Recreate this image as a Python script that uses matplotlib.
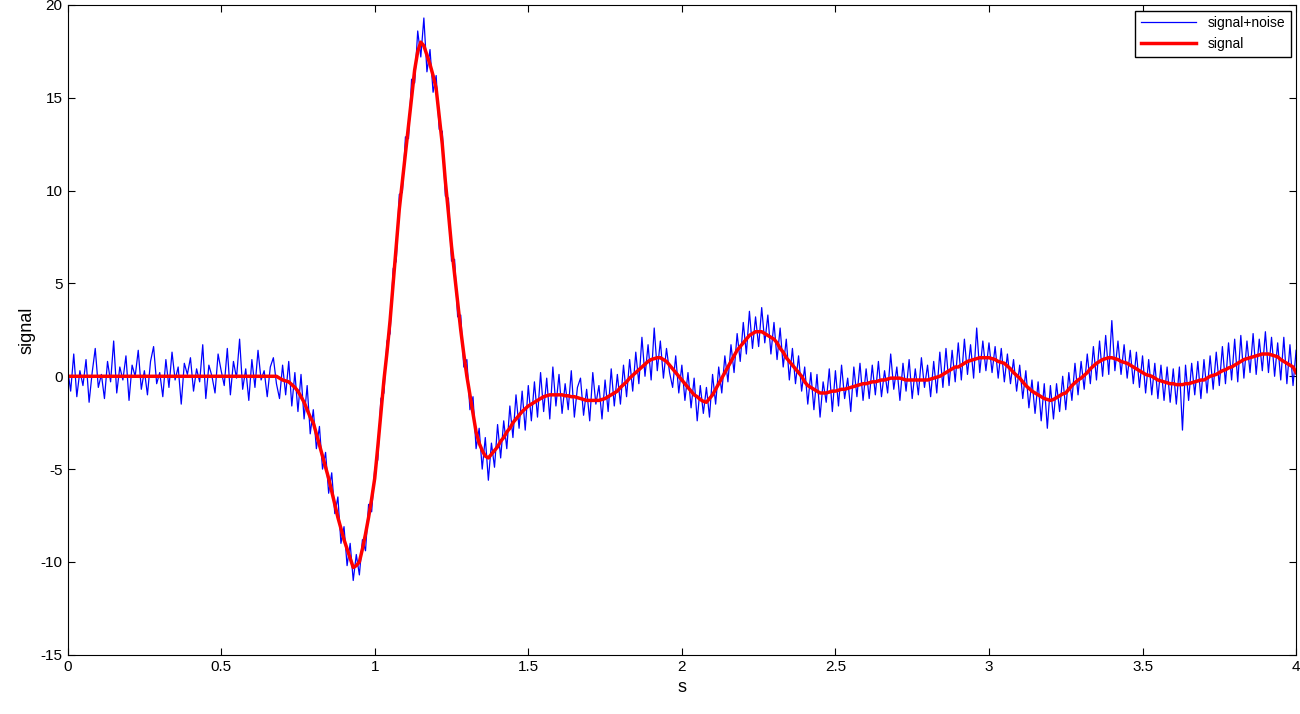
import numpy as np
import matplotlib.pyplot as plt

plt.rcParams["font.family"] = ["Liberation Sans", "DejaVu Sans"]
plt.rcParams["axes.unicode_minus"] = False

# noisy samples, every 0.01 s from 0 to 4 s
noisy = [
    0.4, -0.8, 1.2, -1.1, 0.3, -0.5, 0.9, -1.4, 0.2, 1.5, -0.6, 0.1, -1.2, 0.8, -0.3, 1.9, -0.9, 0.5, -0.2, 1.1,
    -1.3, 0.6, 0.0, 1.4, -0.7, 0.3, -1.0, 0.8, 1.6, -0.4, 0.2, -1.1, 0.9, -0.6, 1.3, -0.2, 0.5, -1.5, 0.7, 0.1,
    1.0, -0.8, 0.4, -0.3, 1.7, -1.2, 0.6, 0.0, -0.9, 1.2, 0.3, -0.5, 1.5, -1.0, 0.8, -0.1, 2.0, -0.7, 0.4, -1.3,
    0.9, -0.6, 1.4, -0.2, 0.3, -1.1, 0.5, 1.0, -0.4, -1.2, 0.6, -1.0, 0.8, -1.6, 0.2, -1.9, 0.1, -2.3, -0.5, -3.1,
    -1.8, -3.9, -2.7, -5.0, -4.1, -6.3, -5.2, -7.4, -6.5, -9.0, -8.1, -10.2, -9.0, -11.0, -9.6, -10.7, -8.8, -9.4, -6.9, -7.3,
    -5.0, -4.5, -1.2, -0.9, 1.9, 2.3, 5.8, 6.2, 9.8, 9.9, 12.9, 12.8, 16.0, 15.8, 18.6, 17.2, 19.3, 16.4, 17.6, 15.3,
    16.2, 13.3, 13.2, 9.7, 9.6, 6.2, 6.3, 3.2, 3.3, 0.5, 0.9, -1.8, -1.1, -3.9, -2.8, -5.0, -3.3, -5.6, -3.6, -4.9,
    -2.6, -4.4, -2.4, -3.9, -1.6, -3.3, -1.0, -2.8, -0.8, -2.9, -0.5, -2.4, -0.3, -2.2, 0.2, -1.9, -0.1, -2.3, 0.5, -1.6,
    0.1, -2.0, -0.4, -1.8, 0.3, -2.2, -0.6, -0.1, -2.1, -0.7, -2.4, 0.2, -1.5, -0.5, -2.3, -0.2, -1.9, 0.4, -1.6, 0.1,
    -1.5, 0.6, -1.1, 0.9, -0.8, 1.3, -0.4, 2.1, 0.0, 1.7, -0.2, 2.6, 0.3, 1.9, -0.1, 1.5, 0.2, -0.6, 1.1, -0.9,
    0.6, -1.3, 0.2, -1.7, -0.1, -2.4, -0.5, -2.0, -0.6, -2.2, 0.1, -1.5, 0.5, -0.9, 1.1, -0.3, 1.7, 0.2, 2.3, 0.8,
    2.9, 1.2, 3.5, 1.5, 3.2, 1.6, 3.7, 1.8, 3.3, 1.2, 2.9, 0.9, 2.6, 0.5, 2.0, -0.2, 1.5, -0.4, 1.1, -0.8,
    0.5, -1.5, 0.2, -1.8, 0.1, -2.2, -0.3, -1.4, 0.4, -1.9, 0.3, -1.6, 0.6, -1.2, -0.1, -1.9, 0.5, -1.1, 0.7, -1.3,
    0.4, -1.2, 0.6, -1.0, 0.8, -1.1, 0.3, -0.9, 1.2, -0.7, 0.5, -1.3, 0.7, -0.8, 0.9, -1.2, 0.4, -1.0, 1.0, -0.6,
    0.6, -1.1, 0.8, -0.9, 1.3, -0.6, 1.5, -0.5, 1.4, -0.3, 1.8, -0.2, 2.0, 0.1, 1.7, -0.1, 2.6, 0.2, 1.9, 0.3,
    1.8, 0.2, 1.6, -0.1, 1.5, -0.3, 1.2, -0.4, 0.9, -0.8, 0.6, -1.2, 0.3, -1.7, -0.2, -2.0, -0.3, -2.4, -0.4, -2.8,
    -0.5, -2.3, -0.4, -1.9, 0.0, -1.8, 0.2, -1.3, 0.7, -1.0, 0.8, -0.7, 1.2, -0.4, 1.6, -0.2, 1.9, 0.0, 2.2, 0.1,
    3.0, 0.3, 1.9, 0.1, 1.7, -0.1, 1.4, -0.4, 1.3, -0.6, 1.1, -0.9, 0.9, -1.0, 0.7, -1.2, 0.6, -1.3, 0.5, -1.4,
    0.4, -1.5, 0.5, -2.9, 0.6, -1.3, 0.7, -1.0, 0.8, -1.2, 0.9, -0.9, 1.1, -0.7, 1.3, -0.5, 1.6, -0.4, 1.8, -0.2,
    2.0, -0.3, 2.2, -0.1, 1.9, 0.2, 2.3, 0.1, 2.0, 0.3, 2.4, 0.2, 2.1, 0.0, 1.8, -0.2, 2.1, -0.4, 1.7, -0.5,
    1.4,
]

# clean signal, same sampling
signal = [0.0] * 60 + [
    0, 0, 0, 0, 0, 0, 0, 0, 0, -0.1, -0.2, -0.25, -0.3, -0.45, -0.6, -0.8, -1.1, -1.4, -1.8, -2.2,
    -2.5, -3.1, -3.7, -4.3, -4.9, -5.5, -6.2, -6.9, -7.6, -8.2, -8.8, -9.3, -9.8, -10.3, -10.2, -10.0, -9.3, -8.5, -7.6, -6.6,
    -5.5, -3.8, -2.0, -0.2, 1.3, 3.0, 5.0, 7.0, 9.0, 10.5, 12.0, 13.5, 15.0, 16.5, 17.5, 18.0, 17.8, 17.3, 16.8, 16.2,
    15.5, 14.0, 12.5, 10.5, 8.8, 7.0, 5.5, 4.0, 2.5, 1.2, 0.0, -1.0, -2.0, -3.0, -3.6, -4.0, -4.3, -4.4, -4.2, -4.0,
    -3.8, -3.5, -3.3, -3.0, -2.8, -2.5, -2.3, -2.1, -1.9, -1.75, -1.6, -1.5, -1.4, -1.3, -1.2, -1.1, -1.05, -1.0, -1.0, -1.0,
    -1.0, -1.0, -1.05, -1.05, -1.1, -1.1, -1.15, -1.2, -1.25, -1.3, -1.3, -1.3, -1.3, -1.3, -1.25, -1.2, -1.1, -1.0, -0.9, -0.8,
    -0.6, -0.45, -0.3, -0.1, 0.05, 0.2, 0.35, 0.5, 0.65, 0.8, 0.9, 0.95, 1.0, 1.0, 0.9, 0.8, 0.6, 0.4, 0.2, 0.0,
    -0.2, -0.4, -0.6, -0.8, -1.0, -1.1, -1.25, -1.35, -1.4, -1.2, -1.0, -0.7, -0.4, -0.1, 0.2, 0.5, 0.8, 1.1, 1.4, 1.6,
    1.8, 2.0, 2.2, 2.3, 2.4, 2.4, 2.4, 2.3, 2.2, 2.1, 2.0, 1.8, 1.5, 1.3, 1.0, 0.8, 0.6, 0.4, 0.2, 0.0,
    -0.3, -0.5, -0.6, -0.7, -0.8, -0.9, -0.9, -0.9, -0.85, -0.8, -0.8, -0.75, -0.7, -0.7, -0.65, -0.6, -0.55, -0.5, -0.45, -0.4,
    -0.4, -0.35, -0.3, -0.3, -0.25, -0.2, -0.2, -0.15, -0.1, -0.1, -0.1, -0.1, -0.15, -0.2, -0.2, -0.2, -0.2, -0.2, -0.2, -0.2,
    -0.2, -0.15, -0.1, -0.05, 0.0, 0.1, 0.2, 0.3, 0.4, 0.5, 0.5, 0.6, 0.7, 0.8, 0.85, 0.9, 0.95, 1.0, 1.0, 1.0,
    1.0, 0.95, 0.9, 0.8, 0.75, 0.7, 0.55, 0.4, 0.2, 0.05, -0.1, -0.3, -0.5, -0.65, -0.8, -0.9, -1.0, -1.1, -1.2, -1.25,
    -1.3, -1.25, -1.15, -1.05, -0.95, -0.9, -0.7, -0.5, -0.35, -0.2, -0.1, 0.05, 0.2, 0.4, 0.55, 0.7, 0.8, 0.9, 0.95, 1.0,
    1.0, 0.95, 0.9, 0.8, 0.75, 0.7, 0.6, 0.5, 0.4, 0.3, 0.2, 0.1, 0.05, 0.0, -0.1, -0.2, -0.25, -0.3, -0.35, -0.4,
    -0.4, -0.45, -0.45, -0.45, -0.4, -0.4, -0.35, -0.3, -0.25, -0.2, -0.2, -0.1, 0.0, 0.05, 0.1, 0.2, 0.3, 0.35, 0.45, 0.5,
    0.6, 0.7, 0.8, 0.9, 0.95, 1.0, 1.05, 1.1, 1.15, 1.2, 1.2, 1.2, 1.15, 1.1, 1.05, 0.9, 0.8, 0.7, 0.6, 0.5,
    0.2,
]

t = np.arange(len(noisy)) * 0.01

fig = plt.figure(figsize=(13, 7.14), dpi=100)
ax = fig.add_axes([0.052, 0.083, 0.945, 0.91])
ax.plot(t, noisy, color="blue", lw=0.9, label="signal+noise")
ax.plot(t, signal, color="red", lw=2.5, label="signal")

ax.set_xlim(0, 4)
ax.set_ylim(-15, 20)
ax.set_xticks(np.arange(0, 4.01, 0.5))
ax.set_xticklabels(["0", "0.5", "1", "1.5", "2", "2.5", "3", "3.5", "4"])
ax.set_yticks(np.arange(-15, 21, 5))
ax.tick_params(direction="in", labelsize=11, top=True, right=True, length=5)
ax.set_xlabel("s", fontsize=13)
ax.set_ylabel("signal", fontsize=13)
ax.legend(loc="upper right", fontsize=10, fancybox=False, edgecolor="black", framealpha=1,
          handlelength=4, borderaxespad=0.4)

fig.savefig("out.png")
